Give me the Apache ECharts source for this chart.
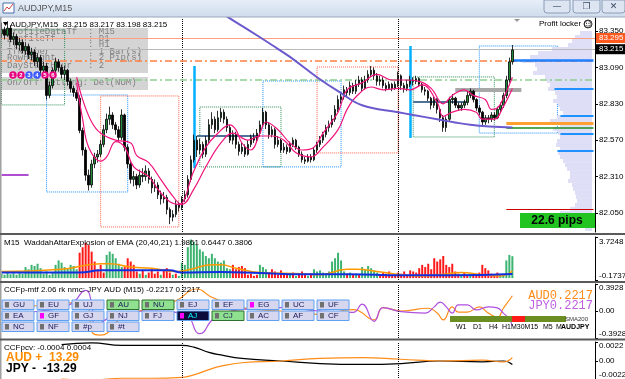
<!DOCTYPE html>
<html><head><meta charset="utf-8">
<script src="https://cdn.jsdelivr.net/npm/echarts@6.0.0/dist/echarts.min.js"></script>
<style>html,body{margin:0;padding:0;background:#fff;overflow:hidden}#c{width:625px;height:379px}</style>
</head><body><div id="c"></div>
<script>
// ---------- DATA ----------
const SLOT_COUNT = 198;               // bar slots shown (incl. empty right margin)
const PRICE_MIN = 81.914, PRICE_MAX = 83.443;
const mainPriceTicks = [82.05, 82.31, 82.57, 82.83, 83.09, 83.35];
const waeTicks = [-0.1737, 3.7248];
const ccfpTicks = [-0.3928, 0, 0.3928];
const pcvTicks = [-0.0022, 0, 0.0022];
const daySeparators = [60, 132];

// candles: [open, close, low, high]
const candles = [
[83.33,83.36,83.30,83.41],[83.36,83.32,83.29,83.38],[83.32,83.37,83.31,83.42],[83.37,83.29,83.27,83.39],
[83.29,83.31,83.25,83.34],[83.31,83.25,83.22,83.33],[83.25,83.27,83.21,83.30],[83.27,83.21,83.19,83.29],
[83.21,83.24,83.18,83.27],[83.24,83.18,83.15,83.26],[83.18,83.20,83.14,83.23],[83.20,83.13,83.10,83.22],
[83.13,83.16,83.09,83.19],[83.16,83.07,83.03,83.18],[83.07,83.10,83.04,83.13],[83.10,82.89,82.86,83.12],
[82.89,82.96,82.87,82.99],[82.96,83.07,82.94,83.09],[83.07,83.13,83.05,83.16],[83.13,83.09,83.06,83.15],
[83.09,83.04,83.01,83.11],[83.04,83.07,83.00,83.10],[83.07,82.99,82.96,83.08],[82.99,82.94,82.91,83.01],
[82.94,82.91,82.88,82.96],[82.91,82.87,82.85,82.93],[82.87,82.64,82.62,82.89],[82.64,82.50,82.46,82.66],
[82.50,82.32,82.28,82.52],[82.32,82.25,82.21,82.36],[82.25,82.40,82.23,82.43],[82.40,82.45,82.37,82.48],
[82.45,82.47,82.41,82.50],[82.47,82.54,82.45,82.57],[82.54,82.645,82.52,82.68],[82.645,82.72,82.62,82.76],
[82.72,82.75,82.68,82.81],[82.75,82.68,82.65,82.77],[82.68,82.645,82.61,82.70],[82.645,82.59,82.56,82.67],
[82.59,82.75,82.57,82.79],[82.75,82.52,82.49,82.76],[82.52,82.40,82.37,82.54],[82.40,82.29,82.26,82.42],
[82.29,82.31,82.24,82.35],[82.31,82.25,82.22,82.33],[82.25,82.32,82.23,82.36],[82.32,82.31,82.27,82.37],
[82.31,82.35,82.28,82.39],[82.35,82.29,82.26,82.37],[82.29,82.23,82.19,82.31],[82.23,82.25,82.20,82.29],
[82.25,82.18,82.15,82.27],[82.18,82.15,82.11,82.21],[82.15,82.16,82.12,82.20],[82.16,82.075,82.04,82.18],
[82.075,82.02,81.97,82.09],[82.02,82.04,81.99,82.07],[82.04,82.11,82.02,82.14],[82.11,82.09,82.06,82.13],
[82.09,82.15,82.07,82.17],[82.15,82.18,82.13,82.21],[82.18,82.29,82.16,82.32],[82.29,82.43,82.27,82.46],
[82.43,82.57,82.41,82.61],[82.57,82.50,82.45,82.60],[82.50,82.54,82.47,82.58],[82.54,82.47,82.44,82.56],
[82.47,82.57,82.45,82.60],[82.57,82.68,82.55,82.72],[82.68,82.72,82.65,82.77],[82.72,82.645,82.62,82.74],
[82.645,82.73,82.63,82.78],[82.73,82.77,82.70,82.80],[82.77,82.72,82.69,82.79],[82.72,82.66,82.63,82.74],
[82.66,82.57,82.55,82.68],[82.57,82.61,82.54,82.64],[82.61,82.54,82.51,82.63],[82.54,82.49,82.46,82.56],
[82.49,82.52,82.47,82.55],[82.52,82.47,82.45,82.54],[82.47,82.54,82.46,82.57],[82.54,82.59,82.52,82.61],
[82.59,82.57,82.55,82.62],[82.57,82.62,82.56,82.65],[82.62,82.68,82.60,82.71],[82.68,82.77,82.66,82.80],
[82.77,82.68,82.65,82.78],[82.68,82.61,82.58,82.70],[82.61,82.645,82.59,82.67],[82.645,82.54,82.51,82.66],
[82.54,82.57,82.52,82.60],[82.57,82.50,82.48,82.58],[82.50,82.52,82.48,82.55],[82.52,82.49,82.47,82.54],
[82.49,82.54,82.48,82.56],[82.54,82.57,82.52,82.59],[82.57,82.52,82.50,82.58],[82.52,82.47,82.45,82.53],
[82.47,82.43,82.41,82.49],[82.43,82.42,82.40,82.45],[82.42,82.45,82.41,82.47],[82.45,82.43,82.41,82.47],
[82.43,82.50,82.42,82.52],[82.50,82.54,82.48,82.56],[82.54,82.57,82.52,82.60],[82.57,82.61,82.55,82.63],
[82.61,82.66,82.59,82.68],[82.66,82.68,82.63,82.71],[82.68,82.72,82.66,82.75],[82.72,82.79,82.70,82.82],
[82.79,82.86,82.77,82.89],[82.86,82.88,82.83,82.91],[82.88,82.93,82.86,82.96],[82.93,82.91,82.88,82.95],
[82.91,82.96,82.89,82.99],[82.96,82.92,82.90,82.98],[82.92,82.97,82.90,83.00],[82.97,83.00,82.95,83.03],
[83.00,82.94,82.92,83.02],[82.94,83.00,82.93,83.03],[83.00,83.04,82.98,83.07],[83.04,83.07,83.02,83.10],
[83.07,83.03,83.00,83.09],[83.03,82.99,82.96,83.05],[82.99,83.00,82.96,83.03],[83.00,82.96,82.94,83.02],
[82.96,82.94,82.92,82.98],[82.94,82.97,82.93,82.99],[82.97,82.94,82.92,82.98],[82.94,82.97,82.93,82.99],
[82.97,83.03,82.95,83.06],[83.03,82.96,82.93,83.04],[82.96,82.94,82.91,82.98],[82.94,82.97,82.92,83.00],
[82.97,83.00,82.95,83.03],[83.00,82.99,82.96,83.02],[82.99,83.01,82.97,83.03],[83.01,82.97,82.95,83.02],
[82.97,82.93,82.91,82.98],[82.93,82.92,82.89,82.95],[82.92,82.87,82.85,82.93],[82.87,82.82,82.79,82.88],
[82.82,82.86,82.80,82.88],[82.86,82.79,82.76,82.87],[82.79,82.73,82.70,82.80],[82.73,82.66,82.63,82.75],
[82.66,82.72,82.63,82.74],[82.72,82.86,82.70,82.88],[82.86,82.87,82.83,82.90],[82.87,82.82,82.80,82.88],
[82.82,82.80,82.78,82.84],[82.80,82.82,82.78,82.84],[82.82,82.84,82.80,82.86],[82.84,82.89,82.82,82.92],
[82.89,82.92,82.87,82.94],[82.92,82.86,82.84,82.93],[82.86,82.80,82.78,82.87],[82.80,82.77,82.75,82.82],
[82.77,82.70,82.67,82.78],[82.70,82.73,82.68,82.75],[82.73,82.72,82.69,82.75],[82.72,82.75,82.70,82.77],
[82.75,82.73,82.71,82.77],[82.73,82.79,82.72,82.81],[82.79,82.82,82.77,82.84],[82.82,82.89,82.80,82.91],
[82.89,83.00,82.87,83.03],[83.00,83.13,82.98,83.16],[83.13,83.215,83.11,83.25]
];

// moving averages as [barIndex, price]
const maSlow = [[25,83.02],[27,82.86],[30,82.70],[33,82.62],[38,82.57],[43,82.55],[45,82.46],[49,82.41],[53,82.29],[57,82.17],[60,82.11],[64,82.22],[68,82.38],[73,82.55],[77,82.62],[82,82.57],[86,82.60],[90,82.60],[94,82.57],[98,82.48],[103,82.45],[107,82.52],[112,82.645],[115,82.79],[118,82.88],[123,82.95],[127,82.93],[132,82.94],[136,82.93],[140,82.965],[145,82.84],[147,82.74],[150,82.77],[154,82.79],[158,82.77],[160,82.72],[164,82.72],[167,82.81],[170,82.94]];
const maFast = [[25,82.98],[27,82.72],[29,82.52],[33,82.42],[35,82.45],[38,82.56],[41,82.52],[44,82.38],[49,82.31],[52,82.22],[56,82.13],[59,82.11],[64,82.35],[68,82.52],[72,82.62],[76,82.68],[78,82.645],[80,82.55],[83,82.50],[86,82.62],[88,82.70],[92,82.645],[96,82.55],[100,82.50],[104,82.52],[107,82.62],[112,82.77],[115,82.93],[120,82.98],[125,83.04],[130,83.0],[134,83.0],[139,82.99],[143,82.94],[147,82.83],[150,82.89],[154,82.93],[157,82.89],[161,82.86],[163,82.79],[165,82.80],[167,82.87],[170,83.02]];
const sma200 = [[70,83.53],[76,83.44],[82,83.36],[90,83.25],[96,83.165],[105,83.02],[112,82.92],[120,82.82],[132,82.77],[137,82.75],[145,82.72],[156,82.68],[170,82.66]];

// dotted range boxes: [fromBar, topPrice, toBar, bottomPrice, kind]
const boxes = [
[0,83.357,21,82.822,'g'],[15,82.893,42,82.200,'b'],[33,82.886,59,81.950,'r'],
[66,82.807,93,82.379,'g'],[87,82.993,113,82.379,'b'],[105,83.093,132,82.479,'r'],
[137,83.022,164,82.593,'g'],[159,83.243,185,82.621,'b']
];
// full-width price levels
const levelSalmon = 83.295, levelBid = 83.215, levelOrangeDash = 83.143, levelGreenDash = 83.0;
// partial levels: [fromBar, toBar, price, kind]
const segments = [
[168,197,82.693,'orange'],[168,197,82.657,'green'],[170,197,83.143,'blueW'],
[184,197,82.936,'blue'],[186,197,82.743,'blue'],[186,197,82.614,'blue'],[185,197,82.493,'blue'],
[168,197,82.079,'red'],[151,173,82.932,'gray'],[65,86,82.60,'steel'],[137,155,82.843,'steel'],[0,9,82.322,'purple']
];
// vertical markers: [bar, fromPrice, toPrice]
const vMarkers = [[64,83.10,82.37],[136,83.243,82.586]];

// volume profile
const profilePrices = [83.336,83.307,83.279,83.250,83.222,83.193,83.165,83.136,83.107,83.079,83.050,83.022,82.993,82.965,82.936,82.907,82.879,82.850,82.822,82.793,82.765,82.736,82.707,82.679,82.650,82.622,82.593,82.565,82.536,82.507,82.479,82.450,82.422,82.393,82.365,82.336,82.307,82.279,82.250,82.222,82.193,82.165,82.136,82.107,82.079,82.050,82.022,81.993,81.964,81.936];
const profileVolumes = [12,17,20,24,40,54,62,70,57,55,59,47,45,42,44,37,35,39,34,32,29,35,42,32,39,34,32,35,36,32,34,32,29,27,25,22,22,24,20,19,17,16,15,17,22,32,52,32,17,7];

// Waddah Attar Explosion histogram
const waeValues = [0.4,0.3,0.5,0.35,0.45,0.3,0.5,0.4, 1.0,0.8, 1.2,1.1,1.3,0.9, 0.4,0.6,0.3,0.5, 1.2,1.6,1.4, 1.0,0.9,1.2,1.1,0.8,
 2.3,2.8,3.2,3.0,2.4, 1.5,0.8,1.2,0.5, 2.1,2.4,2.2,1.8, 1.3,1.0, 1.0,1.8,1.5,1.2, 0.6,0.4,0.7,0.3,0.5,0.8,
 0.4,0.6,0.3,0.7,0.9,0.5,0.3,0.4,0.2, 1.4,1.2, 2.8,3.5,3.3,3.0,2.6, 2.4,2.0,1.8,2.2, 1.8,1.5,1.4,1.6, 0.9,0.8,
 1.2,0.8,1.0,1.1,0.9, 0.3,0.4,0.2,0.3, 1.2,1.0,0.8, 0.5,0.8,0.6,0.3,0.7,0.4,0.3, 0.3,0.5,0.2,0.4,0.6,0.3,0.2,0.4,
 0.8,0.6,0.7, 0.5,0.4,0.6, 1.5,1.8,2.3,1.6, 0.6,0.4,0.5,0.3,0.4,0.3, 1.0,0.8,1.1,0.9,0.7,0.5,
 0.3,0.5,0.4,0.6,0.3,0.2,0.5,0.4,0.6,0.3, 0.7,0.6,0.5, 0.9,1.2,1.0,1.3,0.8, 1.8,1.5,1.7,2.0, 1.2,1.0,1.3,0.6,
 0.4,0.3,0.5,0.2,0.3,0.4,0.3,0.5, 1.2,0.9,0.7, 0.4,0.3,0.5,0.3,0.4, 1.6,2.1,1.9861];
const waeColors = 'GGGGGGGG'+'GG'+'GGGG'+'GGGG'+'GGG'+'GGGGG'+'RRRRR'+'RRRR'+'GGGG'+'GG'+'RRRR'+'RGRGRR'+
 'RRGRRRGRG'+'GG'+'GGGGG'+'GGGG'+'GGGG'+'GG'+'RRRRR'+'RRRR'+'GGG'+'RRRRRRR'+'GRGRRRGR'+'GGG'+'GGG'+'GGGG'+
 'GRGRGR'+'GGGGGG'+'RRRRRRRRRR'+'RRR'+'RRRRR'+'RRRR'+'RRRR'+'RGRRGRRR'+'RRR'+'RRRGG'+'GGG';
const waeExplosion = [[0,0.6],[20,0.8],[33,1.3],[36,1.3],[43,1.0],[50,0.9],[58,0.6],[63,0.8],[70,1.2],[73,1.2],[78,0.9],[86,0.5],[100,0.4],[106,0.3],[115,0.8],[118,0.8],[125,0.6],[133,0.3],[140,0.2],[146,0.3],[153,0.5],[160,0.3],[166,0.2],[170,0.6447]];
const waeDeadZone = [[0,0.5],[26,0.5],[33,0.7],[56,0.7],[60,0.5],[73,0.55],[86,0.45],[100,0.35],[116,0.35],[133,0.25],[150,0.25],[170,0.3806]];

// CCFp currency strength
const ccfAud = [[0,0.05],[13,0.08],[23,0.12],[26,0.14],[29,0.05],[30,-0.3],[33,-0.35],[40,-0.1],[50,0.05],[58,0.15],[65,0.32],[70,0.2],[80,0.05],[93,0.0],[106,-0.05],[117,0.02],[119,0.0],[124,-0.13],[127,0.05],[133,0.0],[142,0.04],[145,-0.03],[147,-0.13],[150,0.06],[152,-0.015],[155,-0.015],[159,0.06],[162,-0.03],[165,-0.09],[167,0.04],[169,0.16],[170,0.2217]];
const ccfJpy = [[0,-0.05],[13,0.0],[23,0.1],[28,0.3],[30,0.1],[31,-0.25],[36,-0.1],[50,0.0],[61,-0.05],[66,-0.33],[71,-0.1],[80,0.02],[93,0.05],[106,0.0],[117,-0.02],[120,0.1],[124,-0.15],[127,0.05],[133,-0.01],[141,-0.03],[144,0.06],[146,0.13],[148,0.06],[150,-0.03],[152,0.09],[155,0.09],[158,0.015],[162,0.06],[165,0.045],[167,-0.03],[169,-0.12],[170,-0.2217]];
// CCFpcv
const pcvJpy = [[20,0.0019],[30,0.0021],[40,0.0018],[50,0.0018],[60,0.0018],[64,0.0016],[69,0.0010],[73,0.0007],[80,0.0003],[93,0.0],[106,-0.0003],[120,-0.0004],[133,-0.0003],[146,0.0],[160,-0.0001],[167,0.0],[170,-0.0004]];
const pcvAud = [[20,-0.0021],[30,-0.0022],[40,-0.0020],[50,-0.0020],[60,-0.0019],[64,-0.0016],[69,-0.0010],[73,-0.0006],[80,-0.0002],[93,0.0],[106,0.0003],[120,0.0004],[133,0.0002],[146,0.0],[160,0.0001],[167,-0.0001],[170,0.0004]];

// texts
const infoLines = [['ProfileDataTf  : M15',32],['ProfileTf      : D1',39],['Tf             : H1',45],['TfNumber       : 1 Bar(s)',52],['RowHeight      : 2 Pip(s)',58],['DayStartHour   : 2',66]];
const btnRows = [['GU','EU','UJ','AU','NU','EJ','EF','EG','UC','UF'],['EA','GF','GJ','NJ','FJ','AJ','CJ','AC','AF','CF'],['NC','NF','#p','#t']];
const btnGreen = ['AU','NU','CJ'], btnMagenta = ['EG','GF','AJ'];
const mtfLabels = [['W1',456],['D1',473],['H4',489],['H1M30M15',502],['M5',543],['M',556]];

// ---------- CHART ----------
const slots = Array.from({length: SLOT_COUNT}, (_, k) => String(k));
const FONT = '"Liberation Sans", Arial, sans-serif';
const chart = echarts.init(document.getElementById('c'));

const boxColor = {g:'#2e8b57', b:'#1e90ff', r:'#ff6347'};
const segStyle = {
  orange:{color:'#ffa030',width:3}, green:{color:'#1e8c1e',width:1.5}, blueW:{color:'#1e7fff',width:2.5},
  blue:{color:'#1e90ff',width:2}, red:{color:'#cc0000',width:1}, gray:{color:'#a8a8a8',width:4},
  steel:{color:'#4f7396',width:2}, purple:{color:'#b04fd0',width:2}
};
const daySepLines = daySeparators.map(b => ({xAxis: b, lineStyle:{type:'dotted', color:'#000', width:1}}));

const mainMarkLines = [
  ...daySepLines,
  {yAxis: levelSalmon, lineStyle:{color:'#ff9f80', width:1, type:'solid'},
   label:{show:true, position:'end', distance:1, formatter:'83.295', backgroundColor:'#ff5a1f', color:'#fff', padding:[1,3,1,3], fontSize:8, fontFamily:FONT}},
  {yAxis: levelBid, lineStyle:{color:'#b8b8b8', width:1, type:'solid'},
   label:{show:true, position:'end', distance:1, formatter:'83.215', backgroundColor:'#000', color:'#fff', padding:[1,3,1,3], fontSize:8, fontFamily:FONT}},
  {yAxis: levelOrangeDash, lineStyle:{color:'#ff8040', width:1.5, type:[7,3,2,3]}},
  {yAxis: levelGreenDash, lineStyle:{color:'#8fd08f', width:1.5, type:[7,3,2,3]}},
  ...segments.map(s => [{coord:[s[0], s[2]], lineStyle:Object.assign({type:'solid'}, segStyle[s[3]])}, {coord:[s[1], s[2]]}]),
  ...vMarkers.map(v => [{coord:[v[0], v[1]], lineStyle:{color:'#00b0ff', width:2.5, type:'solid'}}, {coord:[v[0], v[2]]}])
];

function subAxis(gi, min, max, ticks, fmt, upPad, downPad) {
  return {
    type:'value', gridIndex:gi, position:'right', min:min, max:max,
    splitLine:{show:false},
    axisLine:{show:true, lineStyle:{color:'#000', width:1}},
    axisTick:{show:true, customValues:ticks, length:3, lineStyle:{color:'#000'}},
    axisLabel:{customValues:ticks, margin:4, color:'#000', fontSize:8, fontFamily:FONT,
      formatter: v => v === max ? '{t|' + fmt(v) + '}' : (v === min ? '{b|' + fmt(v) + '}' : '{m|' + fmt(v) + '}'),
      rich:{t:{padding:[upPad,0,0,0], fontSize:8, fontFamily:FONT, color:'#000'},
            b:{padding:[0,0,downPad,0], fontSize:8, fontFamily:FONT, color:'#000'},
            m:{fontSize:8, fontFamily:FONT, color:'#000'}}}
  };
}

const graphics = [];
// info panel (behind the bars)
graphics.push({type:'rect', z:0, shape:{x:0,y:28,width:148,height:45}, style:{fill:'#d4d4d4'}});
graphics.push({type:'rect', z:0, shape:{x:0,y:77,width:148,height:13}, style:{fill:'#d4d4d4'}});
infoLines.forEach(l => graphics.push({type:'text', z:0, x:7, y:l[1], style:{text:l[0], fill:'#7f7f7f', font:'9px "Liberation Mono", monospace', textVerticalAlign:'middle'}}));
graphics.push({type:'text', z:0, x:7, y:83, style:{text:'On/Off Setting: Del(NUM)', fill:'#7f7f7f', font:'9px "Liberation Mono", monospace', textVerticalAlign:'middle'}});

// title bar
graphics.push({type:'rect', z:50, shape:{x:0,y:0,width:625,height:17},
  style:{fill:new echarts.graphic.LinearGradient(0,0,0,1,[{offset:0,color:'#e6eef8'},{offset:1,color:'#cfdcec'}])}});
graphics.push({type:'rect', z:50, shape:{x:0,y:16.5,width:625,height:1}, style:{fill:'#9aa8ba'}});
graphics.push({type:'rect', z:51, shape:{x:3,y:3,width:11,height:10}, style:{fill:'#fff', stroke:'#4a6fa8', lineWidth:1}});
graphics.push({type:'polyline', z:52, shape:{points:[[4,11],[7,7],[9,9],[13,4]]}, style:{stroke:'#d04040', lineWidth:1, fill:null}});
graphics.push({type:'text', z:51, x:18, y:8.5, style:{text:'AUDJPY,M15', fill:'#555', font:'9px ' + FONT, textVerticalAlign:'middle'}});
[[544,26,'—'],[573,27,'❐'],[602,23,'✕']].forEach(b => {
  graphics.push({type:'rect', z:51, shape:{x:b[0],y:0,width:b[1],height:13,r:[0,0,3,3]}, style:{fill:'#dce5f1', stroke:'#8a9cb8', lineWidth:1}});
  graphics.push({type:'text', z:52, x:b[0]+b[1]/2, y:6.5, style:{text:b[2], fill:'#3a4a60', font:'9px "DejaVu Sans"', textAlign:'center', textVerticalAlign:'middle'}});
});
// left window border
graphics.push({type:'rect', z:50, shape:{x:0,y:17,width:1.5,height:362}, style:{fill:'#a0a0a0'}});
// chart header
graphics.push({type:'polygon', z:60, shape:{points:[[3,22],[8,22],[5.5,26]]}, style:{fill:'#000'}});
graphics.push({type:'text', z:60, x:10, y:24.5, style:{text:'AUDJPY,M15  83.215 83.217 83.198 83.215', fill:'#000', font:'8px ' + FONT, textVerticalAlign:'middle'}});
// numbered circles
[['1','#e6007e'],['2','#e6007e'],['3','#3d5afe'],['4','#3d5afe'],['5','#e6007e'],['6','#e6007e']].forEach((c, k) => {
  graphics.push({type:'circle', z:60, shape:{cx:13 + k*8, cy:75, r:3.8}, style:{fill:c[1]}});
  graphics.push({type:'text', z:61, x:13 + k*8, y:75, style:{text:c[0], fill:'#fff', font:'bold 6px ' + FONT, textAlign:'center', textVerticalAlign:'middle'}});
});
// profit locker + pips box
graphics.push({type:'polygon', z:60, shape:{points:[[514,19],[520,19],[517,22]]}, style:{fill:'#999'}});
graphics.push({type:'text', z:60, x:539, y:24, style:{text:'Profit locker', fill:'#000', font:'8px ' + FONT, textVerticalAlign:'middle'}});
graphics.push({type:'circle', z:60, shape:{cx:588, cy:24, r:4}, style:{fill:'#fff', stroke:'#000', lineWidth:0.8}});
graphics.push({type:'text', z:61, x:588, y:24.5, style:{text:'☺', fill:'#000', font:'8px "DejaVu Sans"', textAlign:'center', textVerticalAlign:'middle'}});
graphics.push({type:'rect', z:60, shape:{x:520,y:213,width:75,height:15}, style:{fill:'#22c422'}});
graphics.push({type:'text', z:61, x:557, y:220.5, style:{text:'22.6 pips', fill:'#000', font:'bold 12px ' + FONT, textAlign:'center', textVerticalAlign:'middle'}});

// panel separators
[233, 281, 338.5].forEach(y => graphics.push({type:'rect', z:60, shape:{x:0,y:y,width:625,height:2}, style:{fill:'#5a5a5a'}}));
// panel legends
graphics.push({type:'text', z:60, x:4, y:242.5, style:{text:'M15  WaddahAttarExplosion of EMA (20,40,21) 1.9861 0.6447 0.3806', fill:'#000', font:'8px ' + FONT, textVerticalAlign:'middle'}});
graphics.push({type:'text', z:60, x:4, y:290, style:{text:'CCFp-mtf 2.06 rk nmc: JPY AUD (M15) -0.2217 0.2217', fill:'#000', font:'8px ' + FONT, textVerticalAlign:'middle'}});
graphics.push({type:'text', z:60, x:4, y:347.5, style:{text:'CCFpcv: -0.0004 0.0004', fill:'#000', font:'8px ' + FONT, textVerticalAlign:'middle'}});
graphics.push({type:'text', z:60, x:6, y:357.5, style:{text:'AUD +  13.29', fill:'#ff8c00', font:'bold 12px ' + FONT, textVerticalAlign:'middle'}});
graphics.push({type:'text', z:60, x:6, y:369, style:{text:'JPY -  -13.29', fill:'#000', font:'bold 12px ' + FONT, textVerticalAlign:'middle'}});
graphics.push({type:'text', z:60, x:593, y:296, style:{text:'AUD0.2217', fill:'#ff8c1a', font:'12px "Liberation Mono", monospace', textAlign:'right', textVerticalAlign:'middle'}});
graphics.push({type:'text', z:60, x:593, y:306, style:{text:'JPY0.2217', fill:'#c060e0', font:'12px "Liberation Mono", monospace', textAlign:'right', textVerticalAlign:'middle'}});

// currency buttons
btnRows.forEach((row, r) => row.forEach((name, c) => {
  const x = 2 + c*35, y = 300 + r*11;
  const green = btnGreen.includes(name), dark = name === 'AJ';
  graphics.push({type:'rect', z:60, shape:{x:x,y:y,width:32,height:9.5},
    style:{fill: dark ? '#0b0b3c' : (green ? '#8fe08f' : '#d6d6ee'), stroke: green ? '#2f6f2f' : '#5fa0f0', lineWidth:1}});
  graphics.push({type:'rect', z:61, shape:{x:x+3,y:y+2,width:4,height:5.5}, style:{fill: btnMagenta.includes(name) ? '#ff00ff' : '#707070'}});
  graphics.push({type:'text', z:61, x:x+11, y:y+5, style:{text:name, fill: dark ? '#00ffff' : '#1a1a5a', font:'8px ' + FONT, textVerticalAlign:'middle'}});
}));
// MTF bar
graphics.push({type:'rect', z:60, shape:{x:450,y:316,width:116,height:6}, style:{fill:'#6b8e23'}});
graphics.push({type:'rect', z:61, shape:{x:512,y:316,width:13,height:6}, style:{fill:'#ff1a1a'}});
graphics.push({type:'text', z:61, x:565, y:319, style:{text:'SMA200', fill:'#333', font:'6px ' + FONT, textVerticalAlign:'middle'}});
mtfLabels.forEach(m => graphics.push({type:'text', z:60, x:m[1], y:327.5, style:{text:m[0], fill:'#000', font:'7px ' + FONT, textVerticalAlign:'middle'}}));
graphics.push({type:'text', z:60, x:561, y:327.5, style:{text:'AUDJPY', fill:'#000', font:'bold 7px ' + FONT, textVerticalAlign:'middle'}});

const option = {
  animation:false,
  backgroundColor:'#fff',
  grid:[
    {left:0, right:30, top:18, height:214, outerBoundsMode:'none'},
    {left:0, right:30, top:237, height:43, outerBoundsMode:'none'},
    {left:0, right:30, top:284, height:54, outerBoundsMode:'none'},
    {left:0, right:30, top:342, height:38, outerBoundsMode:'none'},
    {left:500, width:92, top:18, height:214, outerBoundsMode:'none'}
  ],
  xAxis:[
    {type:'category', gridIndex:0, data:slots, show:false},
    {type:'category', gridIndex:1, data:slots, show:false},
    {type:'category', gridIndex:2, data:slots, show:false},
    {type:'category', gridIndex:3, data:slots, show:false},
    {type:'value', gridIndex:4, inverse:true, min:0, max:92, show:false}
  ],
  yAxis:[
    {type:'value', gridIndex:0, position:'right', min:PRICE_MIN, max:PRICE_MAX,
     splitLine:{show:false}, axisLine:{show:true, lineStyle:{color:'#000'}},
     axisTick:{show:true, customValues:mainPriceTicks, length:3, lineStyle:{color:'#000'}},
     axisLabel:{customValues:mainPriceTicks, formatter: v => v.toFixed(3), color:'#000', fontSize:8, fontFamily:FONT, margin:4}},
    subAxis(1, waeTicks[0], waeTicks[1], waeTicks, v => v.toFixed(4), 10, 8),
    subAxis(2, ccfpTicks[0], ccfpTicks[2], ccfpTicks, v => v === 0 ? '0.00' : v.toFixed(4), 8, 8),
    subAxis(3, pcvTicks[0], pcvTicks[2], pcvTicks, v => v === 0 ? '0.00' : v.toFixed(4), 8, 10),
    {type:'value', gridIndex:4, min:PRICE_MIN, max:PRICE_MAX, show:false}
  ],
  series:[
    {type:'custom', xAxisIndex:4, yAxisIndex:4, z:1, silent:true,
     data: profilePrices.map((p, k) => [profileVolumes[k], p]),
     encode:{x:0, y:1},
     renderItem:(params, api) => {
       const v = api.value(0), p = api.value(1), h = 0.0143;
       const a = api.coord([0, p + h]), b = api.coord([v, p - h]);
       return {type:'rect', shape:{x:Math.min(a[0], b[0]), y:a[1], width:Math.abs(a[0]-b[0]), height:b[1]-a[1]},
               style:{fill:'#dedef6'}};
     }},
    {type:'candlestick', xAxisIndex:0, yAxisIndex:0, z:5, data:candles, barWidth:2,
     itemStyle:{color:'#1f8b3b', color0:'#000', borderColor:'#000', borderColor0:'#000', borderWidth:0.8},
     markArea:{silent:true, data: boxes.map(b => [
       {xAxis:b[0], yAxis:b[1], itemStyle:{color:'rgba(0,0,0,0)', borderColor:boxColor[b[4]], borderWidth:1, borderType:'dotted'}},
       {xAxis:b[2], yAxis:b[3]}])},
     markLine:{silent:true, symbol:['none','none'], label:{show:false}, data: mainMarkLines}},
    {type:'line', xAxisIndex:0, yAxisIndex:0, z:6, data:maSlow, smooth:0.4, showSymbol:false, symbol:'none', lineStyle:{color:'#f0147c', width:1.2}},
    {type:'line', xAxisIndex:0, yAxisIndex:0, z:6, data:maFast, smooth:0.4, showSymbol:false, symbol:'none', lineStyle:{color:'#f0147c', width:1.2}},
    {type:'line', xAxisIndex:0, yAxisIndex:0, z:6, data:sma200, smooth:0.4, showSymbol:false, symbol:'none', lineStyle:{color:'#6a5acd', width:2}},
    {type:'bar', xAxisIndex:1, yAxisIndex:1, barWidth:2, z:3,
     data: waeValues.map((v, k) => ({value:v, itemStyle:{color: waeColors[k] === 'G' ? '#3cb371' : '#ff1a1a'}})),
     markLine:{silent:true, symbol:['none','none'], label:{show:false}, data: daySepLines}},
    {type:'line', xAxisIndex:1, yAxisIndex:1, z:4, data:waeExplosion, smooth:0.5, symbol:'none', lineStyle:{color:'#ff9900', width:1.5}},
    {type:'line', xAxisIndex:1, yAxisIndex:1, z:4, data:waeDeadZone, smooth:0.5, symbol:'none', lineStyle:{color:'#1030e0', width:2}},
    {type:'line', xAxisIndex:2, yAxisIndex:2, z:4, data:ccfAud, smooth:0.5, symbol:'none', lineStyle:{color:'#ff8c1a', width:1.2},
     markLine:{silent:true, symbol:['none','none'], label:{show:false}, data: daySepLines}},
    {type:'line', xAxisIndex:2, yAxisIndex:2, z:4, data:ccfJpy, smooth:0.5, symbol:'none', lineStyle:{color:'#b050e0', width:1.2}},
    {type:'line', xAxisIndex:3, yAxisIndex:3, z:4, data:pcvJpy, smooth:0.5, symbol:'none', lineStyle:{color:'#000', width:1.2},
     markLine:{silent:true, symbol:['none','none'], label:{show:false}, data: daySepLines}},
    {type:'line', xAxisIndex:3, yAxisIndex:3, z:4, data:pcvAud, smooth:0.5, symbol:'none', lineStyle:{color:'#ff8c1a', width:1.2}}
  ],
  graphic:{elements: graphics}
};
chart.setOption(option);
</script></body></html>
